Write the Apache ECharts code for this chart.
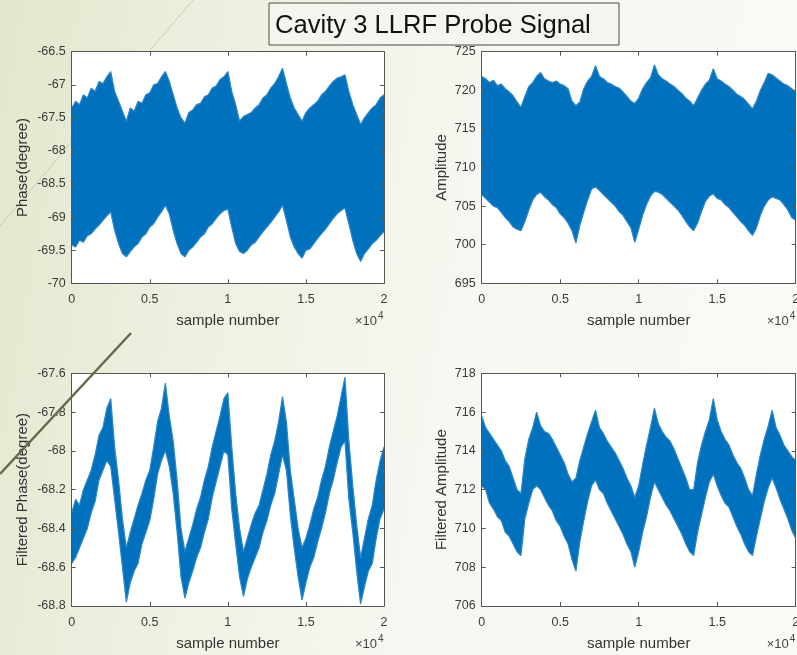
<!DOCTYPE html>
<html>
<head>
<meta charset="utf-8">
<script src="https://cdn.jsdelivr.net/npm/echarts@6/dist/echarts.min.js"></script>
<style>
    html, body { margin: 0; padding: 0; }
    body {
        width: 797px; height: 655px; overflow: hidden;
        background: linear-gradient(100deg, #e2e7cc 0%, #edf0e0 25%, #f6f7f0 55%, #fafaf7 100%);
    }
    #chart { width: 797px; height: 655px; }
</style>
</head>
<body>
<div id="chart"></div>
<script type="text/javascript">
    // sample number, read every 250 samples
    var samples = [0,250,500,750,1000,1250,1500,1750,2000,2250,
        2500,2750,3000,3250,3500,3750,4000,4250,4500,4750,
        5000,5250,5500,5750,6000,6250,6500,6750,7000,7250,
        7500,7750,8000,8250,8500,8750,9000,9250,9500,9750,
        10000,10250,10500,10750,11000,11250,11500,11750,12000,12250,
        12500,12750,13000,13250,13500,13750,14000,14250,14500,14750,
        15000,15250,15500,15750,16000,16250,16500,16750,17000,17250,
        17500,17750,18000,18250,18500,18750,19000,19250,19500,19750,
        20000];

    // 相位 上/下包络 (degree)
    var phaseHigh = [-67.35,-67.25,-67.3,-67.15,-67.2,-67.05,-67.1,-66.95,-66.98,-66.88,
        -66.8,-67.1,-67.25,-67.4,-67.55,-67.35,-67.4,-67.25,-67.28,-67.15,
        -67.12,-67.0,-66.98,-66.88,-66.8,-66.95,-67.15,-67.35,-67.5,-67.58,
        -67.42,-67.38,-67.3,-67.28,-67.18,-67.15,-67.05,-67.02,-66.92,-66.88,
        -66.8,-67.1,-67.3,-67.55,-67.48,-67.45,-67.42,-67.35,-67.3,-67.2,
        -67.15,-67.05,-66.98,-66.88,-66.75,-66.98,-67.2,-67.35,-67.45,-67.55,
        -67.42,-67.35,-67.3,-67.25,-67.15,-67.1,-67.02,-66.95,-66.9,-66.88,
        -66.85,-67.1,-67.3,-67.45,-67.6,-67.5,-67.42,-67.35,-67.3,-67.2,
        -67.15];
    var phaseLow = [-69.42,-69.45,-69.35,-69.38,-69.28,-69.25,-69.18,-69.12,-69.05,-68.98,
        -68.92,-69.2,-69.4,-69.55,-69.6,-69.52,-69.45,-69.4,-69.3,-69.25,
        -69.15,-69.1,-69.0,-68.92,-68.82,-68.95,-69.2,-69.4,-69.55,-69.6,
        -69.5,-69.45,-69.38,-69.3,-69.25,-69.15,-69.1,-69.02,-68.95,-68.9,
        -68.88,-69.15,-69.4,-69.52,-69.55,-69.5,-69.42,-69.38,-69.3,-69.22,
        -69.15,-69.08,-69.0,-68.92,-68.82,-69.05,-69.3,-69.45,-69.55,-69.62,
        -69.5,-69.48,-69.4,-69.32,-69.25,-69.18,-69.1,-69.02,-68.95,-68.9,
        -68.86,-69.1,-69.35,-69.55,-69.67,-69.55,-69.48,-69.4,-69.35,-69.28,
        -69.22];

    // 幅度 上/下包络
    var ampHigh = [721.8,721.5,721.0,721.3,720.6,720.8,720.2,719.8,719.3,718.5,
        717.8,719.2,720.5,721.0,721.8,722.3,721.5,721.2,721.0,721.2,
        720.8,720.6,720.2,718.6,718.0,718.5,720.2,721.2,721.8,723.2,
        721.8,721.5,721.0,720.8,720.5,720.3,719.8,719.2,718.6,718.3,
        719.0,720.2,721.0,721.6,723.3,722.0,721.5,721.2,720.8,720.5,
        720.0,719.6,719.0,718.6,718.0,719.0,720.0,720.8,721.3,722.8,
        721.5,721.2,720.8,720.5,720.0,719.5,719.2,718.8,718.2,717.6,
        718.6,720.0,721.0,722.2,722.0,721.6,721.2,720.8,720.6,720.2,
        719.8];
    var ampLow = [706.5,706.0,705.5,705.0,704.8,704.2,703.5,703.0,702.3,702.0,
        701.8,703.0,704.5,705.8,706.5,706.8,706.2,705.8,705.2,704.8,
        704.0,703.5,702.8,701.8,700.2,702.5,704.2,705.8,707.2,707.5,
        707.0,706.5,706.0,705.5,705.0,704.3,703.8,703.0,702.2,700.3,
        702.0,703.8,705.2,706.3,706.9,706.8,706.5,706.0,705.5,705.0,
        704.5,703.8,703.0,702.3,701.8,702.8,704.3,705.6,706.3,706.6,
        706.0,705.8,705.2,704.8,704.2,703.6,703.0,702.5,701.8,701.2,
        702.2,703.8,705.0,705.8,706.2,706.0,705.8,705.2,704.5,703.5,
        703.2];

    // 滤波后相位 上/下包络
    var fPhaseHigh = [-68.32,-68.25,-68.28,-68.2,-68.15,-68.1,-68.02,-67.92,-67.88,-67.78,
        -67.73,-67.98,-68.15,-68.35,-68.5,-68.42,-68.35,-68.28,-68.22,-68.15,
        -68.1,-67.98,-67.85,-67.78,-67.65,-67.82,-67.95,-68.15,-68.4,-68.52,
        -68.45,-68.38,-68.3,-68.24,-68.15,-68.08,-67.98,-67.9,-67.82,-67.73,
        -67.7,-67.98,-68.22,-68.4,-68.52,-68.45,-68.38,-68.32,-68.28,-68.2,
        -68.12,-68.02,-67.95,-67.85,-67.72,-67.85,-68.1,-68.25,-68.4,-68.5,
        -68.45,-68.38,-68.3,-68.24,-68.15,-68.08,-67.98,-67.9,-67.82,-67.72,
        -67.62,-67.95,-68.18,-68.38,-68.55,-68.45,-68.35,-68.28,-68.15,-68.05,
        -67.98];
    var fPhaseLow = [-68.58,-68.55,-68.5,-68.45,-68.4,-68.32,-68.26,-68.15,-68.1,-68.05,
        -68.08,-68.25,-68.42,-68.6,-68.78,-68.68,-68.62,-68.58,-68.48,-68.42,
        -68.36,-68.25,-68.12,-68.05,-68.0,-68.08,-68.22,-68.42,-68.65,-68.76,
        -68.68,-68.62,-68.55,-68.5,-68.42,-68.35,-68.24,-68.16,-68.08,-68.0,
        -68.02,-68.3,-68.48,-68.65,-68.75,-68.66,-68.6,-68.55,-68.5,-68.42,
        -68.36,-68.28,-68.22,-68.12,-68.02,-68.1,-68.33,-68.5,-68.65,-68.77,
        -68.68,-68.6,-68.55,-68.47,-68.4,-68.32,-68.22,-68.15,-68.06,-67.98,
        -67.95,-68.25,-68.42,-68.62,-68.79,-68.7,-68.62,-68.58,-68.45,-68.35,
        -68.3];

    // 滤波后幅度 上/下包络
    var fAmpHigh = [715.8,715.2,714.9,714.6,714.3,714.0,713.5,713.2,712.6,712.0,
        711.8,713.6,714.6,715.2,716.0,715.3,715.0,714.9,714.6,714.2,
        713.8,713.4,712.8,712.4,712.6,713.5,714.2,714.9,715.5,716.1,
        715.2,714.9,714.5,714.2,713.9,713.5,713.1,712.6,712.2,711.6,
        712.2,713.3,714.3,715.2,716.2,715.4,715.0,714.7,714.5,714.1,
        713.6,713.1,712.6,712.0,712.0,713.4,714.3,715.0,715.6,716.7,
        715.6,715.0,714.6,714.3,713.8,713.4,713.1,712.6,712.0,711.7,
        712.8,713.8,714.6,715.3,716.1,715.2,714.8,714.3,714.0,713.7,
        713.5];
    var fAmpLow = [712.2,712.0,711.3,711.0,710.6,710.4,709.8,709.6,709.2,708.8,
        708.6,710.5,711.3,712.0,712.2,712.0,711.6,711.2,710.9,710.4,
        710.1,709.6,709.2,708.4,707.8,709.3,710.4,711.4,712.2,712.5,
        712.0,711.8,711.3,710.9,710.5,710.1,709.7,709.2,708.8,708.0,
        708.8,709.8,710.6,711.6,712.4,712.0,711.6,711.2,710.9,710.5,
        710.1,709.7,709.2,708.8,708.6,709.8,710.7,711.6,712.4,712.8,
        712.2,711.7,711.3,711.1,710.6,710.1,709.7,709.2,708.8,708.6,
        709.6,710.5,711.4,712.1,712.6,712.1,711.5,711.0,710.5,709.9,
        709.5];

    // 坐标轴刻度
    var xTicks = [0, 5000, 10000, 15000, 20000];
    var xTickLabels = ['0', '0.5', '1', '1.5', '2'];
    var phaseTicks = [-70, -69.5, -69, -68.5, -68, -67.5, -67, -66.5];
    var ampTicks = [695, 700, 705, 710, 715, 720, 725];
    var fPhaseTicks = [-68.8, -68.6, -68.4, -68.2, -68, -67.8, -67.6];
    var fAmpTicks = [706, 708, 710, 712, 714, 716, 718];

    var FONT = '"Liberation Sans", Arial, sans-serif';
    var AXIS_COLOR = '#555';
    var LINE_BLUE = '#0072bd';

    var panels = [
        {hi: phaseHigh, lo: phaseLow, ticks: phaseTicks, name: 'Phase(degree)', gap: 41, box: [71.7, 51.7, 312.3, 231.6]},
        {hi: ampHigh, lo: ampLow, ticks: ampTicks, name: 'Amplitude', gap: 32, box: [481.7, 51.7, 314, 231.6]},
        {hi: fPhaseHigh, lo: fPhaseLow, ticks: fPhaseTicks, name: 'Filtered Phase(degree)', gap: 41, box: [71.7, 373.3, 312.3, 232.7]},
        {hi: fAmpHigh, lo: fAmpLow, ticks: fAmpTicks, name: 'Filtered Amplitude', gap: 32, box: [481.7, 373.3, 314, 232.7]}
    ];

    function tickStyle(){
        return {show: true, inside: true, length: 4, lineStyle: {color: AXIS_COLOR, width: 1}};
    }

    function lineStyleAxis(){
        return {show: true, onZero: false, lineStyle: {color: AXIS_COLOR, width: 1}};
    }

    function initCharts(){
        var chart = echarts.init(document.getElementById('chart'), null, {renderer: 'canvas'});
        var grids = [], xAxes = [], yAxes = [], series = [], graphics = [];

        for(var k = 0; k < panels.length; k++){
            var p = panels[k];
            var yMin = p.ticks[0];
            var yMax = p.ticks[p.ticks.length - 1];
            var yStep = Math.round((p.ticks[1] - p.ticks[0]) * 1000) / 1000;
            var xStep = xTicks[1] - xTicks[0];

            grids.push({
                left: p.box[0], top: p.box[1], width: p.box[2], height: p.box[3],
                containLabel: false, outerBoundsMode: 'none',
                show: true, backgroundColor: '#ffffff', borderWidth: 0
            });

            // 下方 x 轴
            xAxes.push({
                gridIndex: k, type: 'value', position: 'bottom', z: 10,
                min: xTicks[0], max: xTicks[xTicks.length - 1], interval: xStep,
                axisLine: lineStyleAxis(), axisTick: tickStyle(), splitLine: {show: false},
                axisLabel: {
                    show: true, margin: 10, color: '#3a3a3a', fontSize: 12.5, fontFamily: FONT,
                    formatter: function(v){ return xTickLabels[xTicks.indexOf(v)]; }
                },
                name: 'sample number', nameLocation: 'middle', nameGap: 30,
                nameTextStyle: {color: '#333', fontSize: 15, fontFamily: FONT}
            });
            // 上方 x 轴 (只画框和刻度)
            xAxes.push({
                gridIndex: k, type: 'value', position: 'top', z: 10,
                min: xTicks[0], max: xTicks[xTicks.length - 1], interval: xStep,
                axisLine: lineStyleAxis(), axisTick: tickStyle(), splitLine: {show: false},
                axisLabel: {show: false}
            });
            // 左侧 y 轴
            yAxes.push({
                gridIndex: k, type: 'value', position: 'left', z: 10,
                min: yMin, max: yMax, interval: yStep,
                axisLine: lineStyleAxis(), axisTick: tickStyle(), splitLine: {show: false},
                axisLabel: {
                    show: true, margin: 6, color: '#3a3a3a', fontSize: 12.5, fontFamily: FONT,
                    formatter: function(v){ return String(+v.toFixed(2)); }
                },
                name: p.name, nameLocation: 'middle', nameGap: p.gap,
                nameTextStyle: {color: '#333', fontSize: 15, fontFamily: FONT}
            });
            // 右侧 y 轴
            yAxes.push({
                gridIndex: k, type: 'value', position: 'right', z: 10,
                min: yMin, max: yMax, interval: yStep,
                axisLine: lineStyleAxis(), axisTick: tickStyle(), splitLine: {show: false},
                axisLabel: {show: false}
            });

            // 信号带: 上包络向下填充蓝色, 下包络向下填充白色
            var highData = [], lowData = [];
            for(var i = 0; i < samples.length; i++){
                highData.push([samples[i], p.hi[i]]);
                lowData.push([samples[i], p.lo[i]]);
            }
            series.push({
                type: 'line', xAxisIndex: 2 * k, yAxisIndex: 2 * k, z: 2,
                data: highData, symbol: 'none', silent: true,
                lineStyle: {color: '#2f86c6', width: 1.2},
                areaStyle: {origin: 'start', color: LINE_BLUE, opacity: 1}
            });
            series.push({
                type: 'line', xAxisIndex: 2 * k, yAxisIndex: 2 * k, z: 3,
                data: lowData, symbol: 'none', silent: true,
                lineStyle: {color: '#2f86c6', width: 1.2},
                areaStyle: {origin: 'start', color: '#ffffff', opacity: 1}
            });

            // ×10^4
            var rightEdge = p.box[0] + p.box[2];
            var axisBottom = p.box[1] + p.box[3];
            graphics.push({
                type: 'text', x: rightEdge - 7, y: axisBottom + 45, z: 50,
                style: {text: '×10', align: 'right', verticalAlign: 'bottom', fill: '#444', font: '13px ' + FONT}
            });
            graphics.push({
                type: 'text', x: rightEdge - 6, y: axisBottom + 38, z: 50,
                style: {text: '4', align: 'left', verticalAlign: 'bottom', fill: '#444', font: '10px ' + FONT}
            });
        }

        // 幻灯片装饰线
        graphics.push({type: 'line', z: 1, shape: {x1: 193, y1: 0, x2: 148.8, y2: 51.7}, style: {stroke: '#c9cfb2', lineWidth: 1}});
        graphics.push({type: 'line', z: 1, shape: {x1: 71.7, y1: 142, x2: 0, y2: 226}, style: {stroke: '#c9cfb2', lineWidth: 1}});
        graphics.push({type: 'line', z: 100, shape: {x1: 131, y1: 333, x2: 0, y2: 474}, style: {stroke: '#6b674b', lineWidth: 2.5}});

        // 标题
        graphics.push({
            type: 'rect', z: 60, shape: {x: 269, y: 3, width: 350, height: 42},
            style: {fill: '#f5f5ef', stroke: '#4a4a4a', lineWidth: 1}
        });
        graphics.push({
            type: 'text', z: 61, x: 275, y: 26,
            style: {text: 'Cavity 3 LLRF Probe Signal', align: 'left', verticalAlign: 'middle', fill: '#111', font: '25.6px ' + FONT}
        });

        var options = {
            backgroundColor: 'transparent',
            animation: false,
            grid: grids,
            xAxis: xAxes,
            yAxis: yAxes,
            series: series,
            graphic: {elements: graphics}
        };
        chart.setOption(options);
    }

    initCharts();
</script>
</body>
</html>
